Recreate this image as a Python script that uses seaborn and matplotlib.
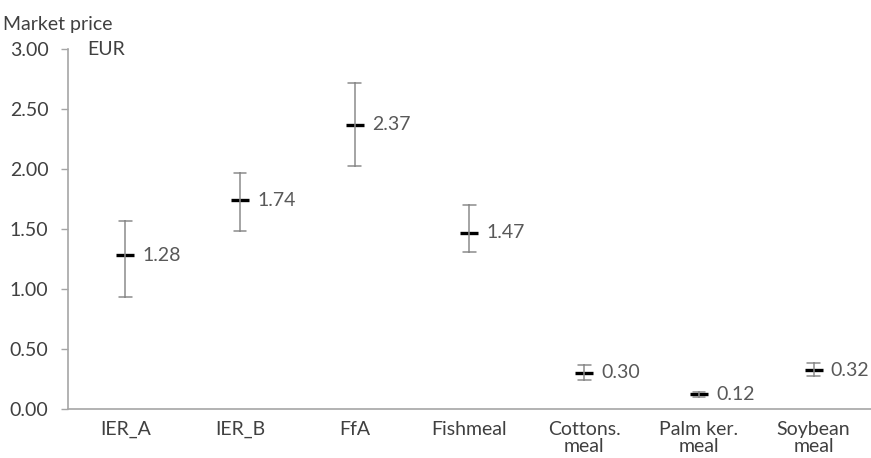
import pandas as pd
import matplotlib.pyplot as plt
import seaborn as sns

# ── Data: market price range per feed (EUR) ───────────────
categories = ['IER_A', 'IER_B', 'FfA', 'Fishmeal',
              'Cottons.\nmeal', 'Palm ker.\nmeal', 'Soybean\nmeal']
price_low = [0.93, 1.48, 2.03, 1.31, 0.24, 0.10, 0.27]
price_mean = [1.28, 1.74, 2.37, 1.47, 0.30, 0.12, 0.32]
price_high = [1.57, 1.97, 2.72, 1.70, 0.36, 0.14, 0.38]
mean_labels = ['1.28', '1.74', '2.37', '1.47', '0.30', '0.12', '0.32']
y_ticks = [0.0, 0.5, 1.0, 1.5, 2.0, 2.5, 3.0]

# long form: low / mean / high per category -> median = mean, min-max = range
df = pd.DataFrame({
    'Feed': categories * 3,
    'Price': price_low + price_mean + price_high,
})

sns.set_theme(style='white')
plt.rcParams['font.family'] = ['Lato', 'DejaVu Sans']
text_col = '#404040'
axis_col = '#a6a6a6'
fs = 14

fig = plt.figure(figsize=(8.71, 4.58), dpi=100)
ax = fig.add_axes([0.078, 0.108, 0.922, 0.784])

sns.pointplot(data=df, x='Feed', y='Price', order=categories,
              estimator='median', errorbar=('pi', 100),
              linestyle='none', marker='_', markersize=13, markeredgewidth=2.4,
              color='black', capsize=0.11,
              err_kws={'color': '#8c8c8c', 'linewidth': 1.1}, ax=ax)

# mean value labels
for i, (v, lab) in enumerate(zip(price_mean, mean_labels)):
    ax.text(i + 0.15, v, lab, va='center', ha='left',
            fontsize=fs, color='#595959')

ax.set_xlim(-0.5, 6.5)
ax.set_ylim(0, 3.0)
ax.set_yticks(y_ticks)
ax.set_yticklabels([f'{t:.2f}' for t in y_ticks])
ax.set_xlabel('')
ax.set_ylabel('')

for side in ['top', 'right']:
    ax.spines[side].set_visible(False)
for side in ['left', 'bottom']:
    ax.spines[side].set_color(axis_col)
    ax.spines[side].set_linewidth(1.2)

ax.tick_params(axis='y', which='major', left=True, length=5, width=1,
               color=axis_col, labelsize=fs, labelcolor=text_col, pad=9)
ax.tick_params(axis='x', bottom=False, labelsize=fs, labelcolor=text_col, pad=3)
for lab in ax.get_xticklabels():
    lab.set_linespacing(1.0)

fig.text(0.003, 0.965, 'Market price', fontsize=fs, color=text_col,
         ha='left', va='top')
ax.text(0.024, 1.0, 'EUR', transform=ax.transAxes, fontsize=fs,
        color=text_col, ha='left', va='center')

fig.savefig('out.png', dpi=100)
plt.close(fig)
